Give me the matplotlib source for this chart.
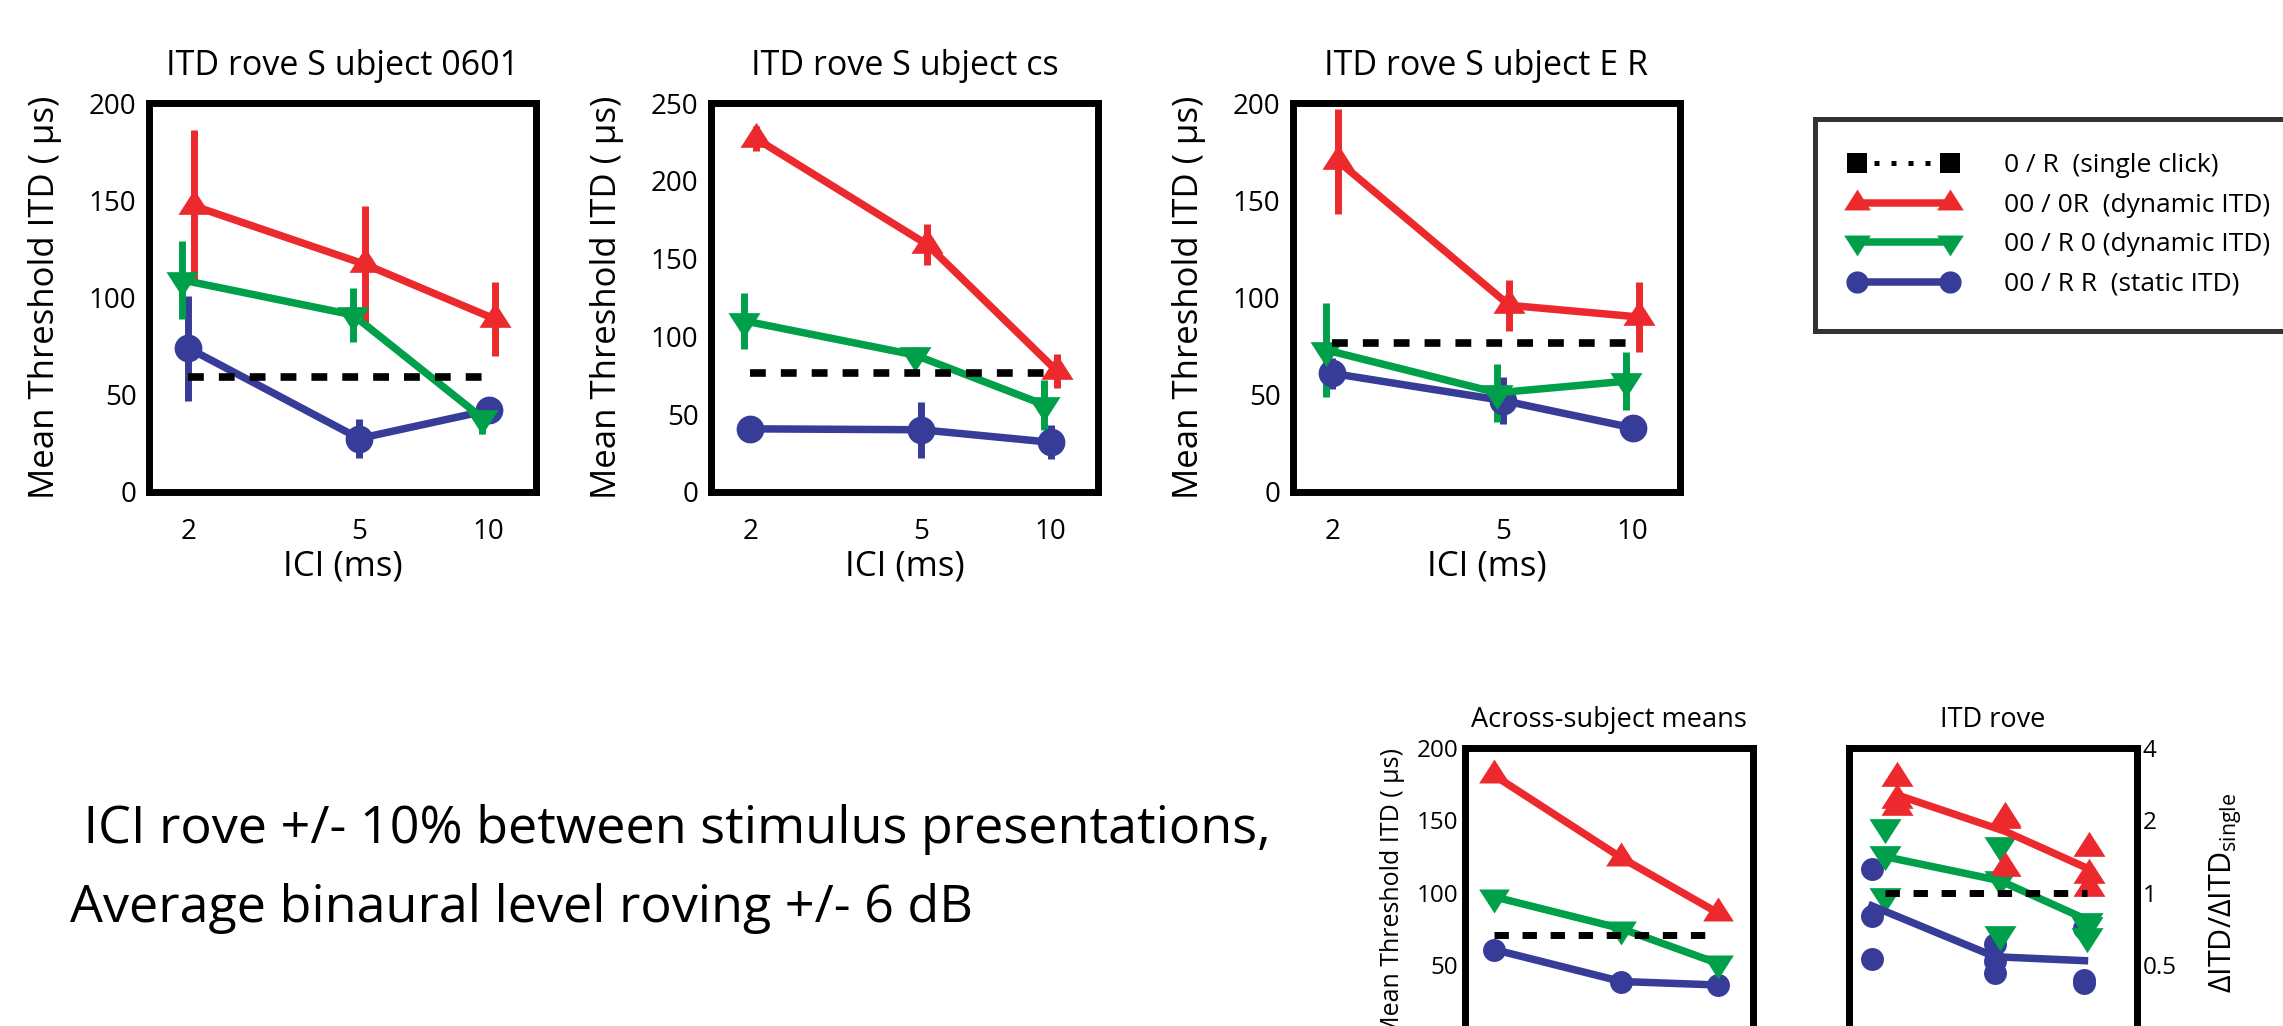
import numpy as np
import matplotlib
matplotlib.use("Agg")
import matplotlib.pyplot as plt
from matplotlib.lines import Line2D
from matplotlib.ticker import FixedLocator, FixedFormatter, NullLocator

plt.rcParams['font.family'] = ['Open Sans', 'DejaVu Sans']
plt.rcParams['mathtext.fontset'] = 'custom'
plt.rcParams['mathtext.rm'] = 'Open Sans'
plt.rcParams['mathtext.it'] = 'Open Sans'

# ---------------- data ----------------
ici = [2, 5, 10]
titles = ['ITD rove S ubject 0601', 'ITD rove S ubject cs', 'ITD rove S ubject E R']
ymax_top = [200, 250, 200]
yticks_top = [[0, 50, 100, 150, 200], [0, 50, 100, 150, 200, 250], [0, 50, 100, 150, 200]]

single_click = [59.0, 76.7, 76.5]
dyn_0R = [[147, 117, 89], [227, 159, 78], [170, 96, 90]]
dyn_0R_err = [[39, 30, 19], [8, 13, 11], [27, 13, 18]]
dyn_R0 = [[109, 91, 38], [110, 88, 56], [73, 51, 57]]
dyn_R0_err = [[20, 14, 8], [18, 5, 16], [24, 15, 15]]
static_RR = [[74, 27.5, 42], [40.6, 40, 32], [61, 47, 33]]
static_RR_err = [[27, 10, 4], [4, 18, 11], [8, 12, 3]]

mean_single = 70.9
mean_0R = [181, 124, 86]
mean_R0 = [97, 75, 51]
mean_RR = [60.5, 38.4, 36]

ratio_0R = [[3.0, 2.44, 2.27], [2.05, 2.0, 1.26], [1.53, 1.18, 1.04]]
ratio_R0 = [[1.87, 1.45, 0.97], [1.57, 1.14, 0.67], [0.76, 0.73, 0.66]]
ratio_RR = [[1.25, 0.80, 0.53], [0.61, 0.52, 0.46], [0.71, 0.43, 0.42]]
ratio_line_0R = [2.55, 1.8, 1.25]
ratio_line_R0 = [1.41, 1.12, 0.77]
ratio_line_RR = [0.88, 0.54, 0.52]
ratio_single = 1.0
ratio_ticks = [0.5, 1, 2, 4]
ratio_ticklabels = ['0.5', '1', '2', '4']

legend_labels = ['0 / R  (single click)', '00 / 0R  (dynamic ITD)',
                 '00 / R 0 (dynamic ITD)', '00 / R R  (static ITD)']
note_lines = [' ICI rove +/- 10% between stimulus presentations,',
              'Average binaural level roving +/- 6 dB']

# ---------------- style ----------------
RED = '#EC2A2E'
GREEN = '#00A04B'
BLUE = '#363C97'
W, H = 2283, 1026
TRI_UP = [(0, 1.04), (-1, -0.52), (1, -0.52), (0, 1.04)]
TRI_DN = [(0, -1.04), (-1, 0.52), (1, 0.52), (0, -1.04)]
LW = 5.4
ELW = 5.0
SPW = 5.0
DASH = (0, (2.07, 1.97))

fig = plt.figure(figsize=(W / 100, H / 100), dpi=100)


def pos(l, r, t, b):
    return [l / W, 1 - b / H, (r - l) / W, (b - t) / H]


def style_axes(ax, fs):
    for s in ax.spines.values():
        s.set_linewidth(SPW)
        s.set_capstyle('projecting')
    ax.tick_params(length=0, labelsize=fs)
    ax.xaxis.set_minor_locator(NullLocator())
    ax.yaxis.set_minor_locator(NullLocator())


lefts = [149, 711, 1293]
ylabel_txt = 'Mean Threshold ITD ( \u00b5s)'
for i in range(3):
    ax = fig.add_axes(pos(lefts[i], lefts[i] + 387, 103, 492))
    ax.set_xscale('log')
    x = np.array(ici, dtype=float)
    ax.errorbar(x, static_RR[i], yerr=static_RR_err[i], color=BLUE, lw=LW,
                elinewidth=ELW, capsize=0, marker='o', ms=20, mec=BLUE, mew=0)
    ax.errorbar(x / 1.033, dyn_R0[i], yerr=dyn_R0_err[i], color=GREEN, lw=LW,
                elinewidth=ELW, capsize=0, marker=TRI_DN, ms=24, mec=GREEN, mew=0)
    ax.errorbar(x * 1.033, dyn_0R[i], yerr=dyn_0R_err[i], color=RED, lw=LW,
                elinewidth=ELW, capsize=0, marker=TRI_UP, ms=24, mec=RED, mew=0)
    ax.plot([ici[0], ici[-1]], [single_click[i]] * 2, color='black', lw=5.5,
            linestyle=DASH, dash_capstyle='butt', zorder=5)
    ax.set_xlim(1.62, 12.9)
    ax.set_ylim(0, ymax_top[i])
    style_axes(ax, 20)
    ax.xaxis.set_major_locator(FixedLocator(ici))
    ax.xaxis.set_major_formatter(FixedFormatter([str(v) for v in ici]))
    ax.set_yticks(yticks_top[i])
    ax.tick_params(axis='x', pad=19)
    ax.tick_params(axis='y', pad=9)
    ax.set_title(titles[i], fontsize=24.5, pad=20)
    ax.set_xlabel('ICI (ms)', fontsize=25, labelpad=2)
    ax.set_ylabel(ylabel_txt, fontsize=25, labelpad=19)

# ---- across-subject means ----
ax = fig.add_axes(pos(1465, 1753, 748, 1037))
ax.set_xscale('log')
ax.plot(ici, mean_RR, color=BLUE, lw=LW, marker='o', ms=16.5, mew=0)
ax.plot(ici, mean_R0, color=GREEN, lw=LW, marker=TRI_DN, ms=23, mew=0)
ax.plot(ici, mean_0R, color=RED, lw=LW, marker=TRI_UP, ms=23, mew=0)
ax.plot([ici[0], ici[-1]], [mean_single] * 2, color='black', lw=5.0,
        linestyle=DASH, dash_capstyle='butt', zorder=5)
ax.set_xlim(1.62, 12.9)
ax.set_ylim(0, 200)
style_axes(ax, 17.5)
ax.xaxis.set_major_locator(FixedLocator(ici))
ax.set_xticklabels([])
ax.set_yticks([0, 50, 100, 150, 200])
ax.tick_params(axis='y', pad=5)
ax.set_title('Across-subject means', fontsize=19.5, pad=15)
ax.set_ylabel(ylabel_txt, fontsize=18, labelpad=8)

# ---- ITD rove normalized ----
ax = fig.add_axes(pos(1849, 2137, 748, 1037))
ax.set_xscale('log')
ax.set_yscale('log', base=2)
offs = [-0.2, 0.0, 0.2]
for j, xv in enumerate(ici):
    ax.plot([xv + offs[0]] * 3, ratio_RR[j], linestyle='none', marker='o',
            ms=16.5, color=BLUE, mew=0)
for j, xv in enumerate(ici):
    ax.plot([xv + offs[1]] * 3, ratio_R0[j], linestyle='none', marker=TRI_DN,
            ms=24, color=GREEN, mew=0)
for j, xv in enumerate(ici):
    ax.plot([xv + offs[2]] * 3, ratio_0R[j], linestyle='none', marker=TRI_UP,
            ms=24, color=RED, mew=0)
xa = np.array(ici, dtype=float)
ax.plot(xa + offs[0], ratio_line_RR, color=BLUE, lw=LW)
ax.plot(xa + offs[1], ratio_line_R0, color=GREEN, lw=LW)
ax.plot(xa + offs[2], ratio_line_0R, color=RED, lw=LW)
ax.plot([ici[0], ici[-1]], [ratio_single] * 2, color='black', lw=5.0,
        linestyle=DASH, dash_capstyle='butt', zorder=5)
ax.set_xlim(1.5, 14.9)
ax.set_ylim(0.25, 4)
style_axes(ax, 17.5)
ax.xaxis.set_major_locator(FixedLocator(ici))
ax.set_xticklabels([])
ax.yaxis.tick_right()
ax.yaxis.set_major_locator(FixedLocator(ratio_ticks))
ax.yaxis.set_major_formatter(FixedFormatter(ratio_ticklabels))
ax.yaxis.set_minor_locator(NullLocator())
ax.tick_params(axis='y', pad=4)
ax.yaxis.set_label_position('right')
ax.set_ylabel('\u0394ITD/\u0394ITD$_{\\mathrm{single}}$', fontsize=22,
              rotation=90)
ax.yaxis.set_label_coords(1.245, 0.5)
ax.set_title('ITD rove', fontsize=19.5, pad=15)

# ---- legend ----
handles = [
    Line2D([], [], color='black', lw=3.6, linestyle=(0, (1, 2.4)), marker='s',
           ms=14, mew=0),
    Line2D([], [], color=RED, lw=LW, marker=TRI_UP, ms=20, mew=0),
    Line2D([], [], color=GREEN, lw=LW, marker=TRI_DN, ms=20, mew=0),
    Line2D([], [], color=BLUE, lw=LW, marker='o', ms=16, mew=0),
]
leg = fig.legend(handles, legend_labels, loc='upper left',
                 bbox_to_anchor=(1815 / W, 1 - 119 / H),
                 bbox_transform=fig.transFigure, fontsize=19, numpoints=2,
                 frameon=True, fancybox=False, edgecolor='black',
                 borderpad=1.3, borderaxespad=0, handlelength=4.1,
                 handletextpad=1.75, labelspacing=0.55)
leg.get_frame().set_linewidth(3.6)

# ---- note text ----
fig.text(70 / W, 1 - 843 / H, note_lines[0], fontsize=37.5, va='baseline', ha='left')
fig.text(70 / W, 1 - 922 / H, note_lines[1], fontsize=37.5, va='baseline', ha='left')

fig.savefig('out.png', dpi=100)
